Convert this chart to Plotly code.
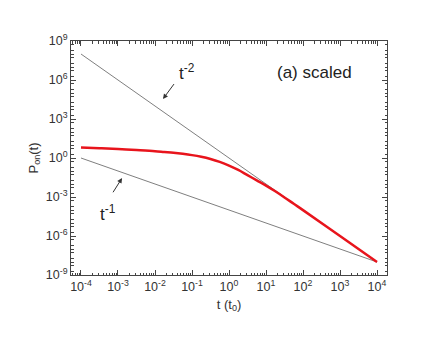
import plotly.graph_objects as go

# red curve: P_on(t), scaled
t_red = [1e-4, 3.16e-4, 1e-3, 3.16e-3, 0.01, 0.0178, 0.0316, 0.0562, 0.1, 0.178, 0.316, 0.562,
         1.0, 1.78, 3.16, 5.62, 10.0, 17.8, 31.6, 56.2, 100.0, 1000.0, 1e4]
p_red = [6.31, 5.62, 4.90, 4.07, 3.31, 2.88, 2.51, 2.09, 1.66, 1.23, 0.832, 0.501,
         0.263, 0.120, 0.0479, 0.0191, 0.00759, 0.00275, 9.3e-4, 3.0e-4, 9.8e-5, 1e-6, 1e-8]

# guide lines t^-2 and t^-1 (end points)
t_guide = [1e-4, 1e4]
p_tm2 = [1e8, 1e-8]
p_tm1 = [1.0, 1e-8]

x_ticks = [1e-4, 1e-3, 1e-2, 1e-1, 1, 10, 100, 1000, 1e4]
x_labels = ["10<sup>-4</sup>", "10<sup>-3</sup>", "10<sup>-2</sup>", "10<sup>-1</sup>", "10<sup>0</sup>",
            "10<sup>1</sup>", "10<sup>2</sup>", "10<sup>3</sup>", "10<sup>4</sup>"]
y_ticks = [1e-9, 1e-6, 1e-3, 1, 1e3, 1e6, 1e9]
y_labels = ["10<sup>-9</sup>", "10<sup>-6</sup>", "10<sup>-3</sup>", "10<sup>0</sup>",
            "10<sup>3</sup>", "10<sup>6</sup>", "10<sup>9</sup>"]

FONT = "Liberation Sans, Arial, sans-serif"
AX = "#444444"

fig = go.Figure()
fig.add_trace(go.Scatter(x=t_guide, y=p_tm2, mode="lines",
                         line=dict(color="#7f7f7f", width=1), showlegend=False))
fig.add_trace(go.Scatter(x=t_guide, y=p_tm1, mode="lines",
                         line=dict(color="#7f7f7f", width=1), showlegend=False))
fig.add_trace(go.Scatter(x=t_red, y=p_red, mode="lines", line_shape="spline",
                         line=dict(color="#e8141c", width=2.5), showlegend=False))

eixo = dict(type="log", showgrid=False, zeroline=False, showline=True, linecolor=AX,
            linewidth=1, mirror="allticks", ticks="inside", ticklen=5, tickcolor=AX,
            tickfont=dict(size=12.5, color="#333333"), automargin=False)

fig.update_xaxes(**eixo, range=[-4.27, 4.27], tickvals=x_ticks, ticktext=x_labels,
                 minor=dict(ticks="inside", ticklen=2.5, tickcolor=AX, dtick="D1"),
                 title=dict(text="t (t<sub>0</sub>)", font=dict(size=13, color="#333333"), standoff=6))
fig.update_yaxes(**eixo, range=[-9, 9], tickvals=y_ticks, ticktext=y_labels,
                 minor=dict(ticks="inside", ticklen=2.5, tickcolor=AX, dtick="D2"),
                 title=dict(text="P<sub>on</sub>(t)", font=dict(size=13, color="#333333"), standoff=4))

anot = [
    dict(x=-1.784, y=4.54, ax=14, ay=-19),
    dict(x=-2.89, y=-1.54, ax=-12, ay=19),
]
for a in anot:
    fig.add_annotation(x=a["x"], y=a["y"], ax=a["ax"], ay=a["ay"], text=" ",
                       showarrow=True, arrowhead=2, arrowsize=1, arrowwidth=1,
                       arrowcolor="#333333", standoff=0, startstandoff=0)

fig.add_annotation(x=-1.135, y=6.6, text="t<sup>-2</sup>", showarrow=False,
                   font=dict(size=17, color="#222222"))
fig.add_annotation(x=-3.27, y=-4.23, text="t<sup>-1</sup>", showarrow=False,
                   font=dict(size=17, color="#222222"))
fig.add_annotation(x=2.32, y=6.54, text="(a) scaled", showarrow=False,
                   font=dict(size=17, color="#222222"))

# the page adds an 8 px body margin, so the figure is made 8 px smaller
fig.update_layout(width=423, height=334, margin=dict(l=63, r=44, t=33, b=67),
                  paper_bgcolor="white", plot_bgcolor="white",
                  font=dict(family=FONT), showlegend=False)

fig.write_html("out.html")
